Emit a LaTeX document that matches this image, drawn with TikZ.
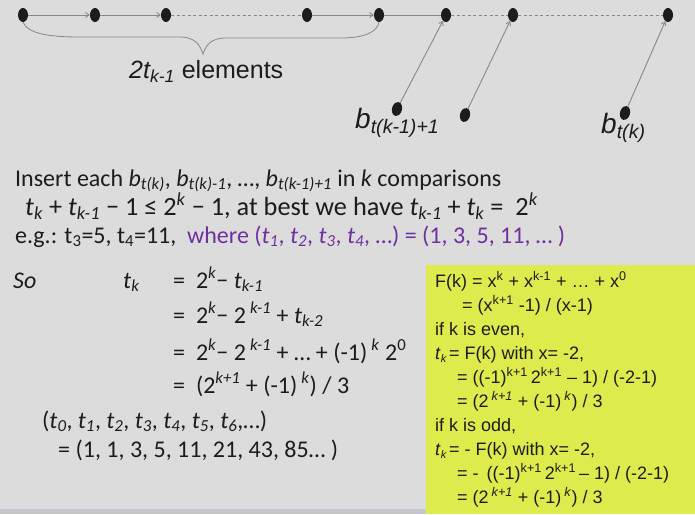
\documentclass[tikz,border=0pt]{standalone}
\usepackage{fontspec}
\setmainfont{Carlito}
\newfontfamily\arialf{Liberation Sans}
\usetikzlibrary{shapes.geometric,arrows.meta}
\definecolor{bg}{RGB}{220,220,220}
\definecolor{band}{RGB}{196,199,205}
\definecolor{ylw}{RGB}{222,235,76}
\definecolor{purp}{RGB}{112,48,160}
\definecolor{ink}{RGB}{28,28,28}
\definecolor{lnk}{RGB}{135,135,135}
\newcommand\sbs[1]{\textsubscript{#1}}
\newcommand\sps[1]{\textsuperscript{#1}}
\tikzset{
  dotn/.style={ellipse, fill=ink, draw=none, minimum width=10pt, minimum height=14pt, inner sep=0pt},
  lnkline/.style={draw=lnk, line width=0.9pt},
  arr/.style={lnkline, -{Straight Barb[length=3.5pt,width=5pt]}},
  dsh/.style={lnkline, dash pattern=on 3pt off 2.5pt},
  txt/.style={anchor=base west, inner sep=0pt, text=ink},
  cbody/.style={txt, font=\fontsize{24}{28}\selectfont},
  ybody/.style={txt, font=\arialf\fontsize{18}{22}\selectfont},
}
\begin{document}
\begin{tikzpicture}[x=1pt,y=-1pt]
\useasboundingbox (0,0) rectangle (695,514);
\fill[bg] (0,0) rectangle (695,514);
\fill[band] (0,509) rectangle (426,514);
\fill[ylw] (426,265) rectangle (695,514);

% top chain
\node[dotn] (d1) at (23,15) {};
\node[dotn] (d2) at (95,15) {};
\node[dotn] (d3) at (166,15) {};
\node[dotn] (d4) at (307,15) {};
\node[dotn] (d5) at (379,15) {};
\node[dotn] (d6) at (446,15) {};
\node[dotn] (d7) at (513,15) {};
\node[dotn] (d8) at (668,15) {};
\node[dotn, rotate=-15] (e1) at (397,109) {};
\node[dotn, rotate=-15] (e2) at (465,115) {};
\node[dotn, rotate=-15] (e3) at (625,113) {};

\draw[arr] (d1) -- (d2);
\draw[arr] (d2) -- (d3);
\draw[dsh] (d3) -- (d4);
\draw[arr] (d4) -- (d5);
\draw[lnkline] (d5) -- (d6);
\draw[dsh] (d6) -- (d7);
\draw[dsh] (d7) -- (d8);
\draw[arr] (e1) -- (d6);
\draw[arr] (e2) -- (d7);
\draw[arr] (e3) -- (d8);

% brace
\coordinate (tip) at (203,54);
\draw[lnkline, line width=0.8pt] (d1.south) .. controls (28,34) and (50,37) .. (80,37) -- (180,37)
   .. controls (195,37) and (200,45) .. (tip)
   .. controls (206,45) and (211,38) .. (226,38) -- (340,38)
   .. controls (365,38) and (377,32) .. (d5.south);

\node[txt, font=\arialf\fontsize{25}{30}\selectfont] (lbl) at (129,78) {{\itshape 2t\sbs{k-1}} elements};
\node[txt, font=\arialf\fontsize{28}{32}\selectfont] (b1) at (355,128) {\itshape b\sbs{t(k-1)+1}};
\node[txt, font=\arialf\fontsize{28}{32}\selectfont] (b2) at (601,133) {\itshape b\sbs{t(k)}};

% text lines
\node[txt, font=\fontsize{24}{28}\selectfont] (l1) at (15,186)
  {Insert each \textit{b}\sbs{\textit{t(k)}}, \textit{b}\sbs{\textit{t(k)-1}}, …, \textit{b}\sbs{\textit{t(k-1)+1}} in \textit{k} comparisons};
\node[txt, font=\fontsize{26.3}{30}\selectfont] (l2) at (25,215)
  {\textit{t}\sbs{\textit{k}} + \textit{t}\sbs{\textit{k-1}} − 1 ≤ 2\sps{\textit{k}} − 1, at best we have \textit{t}\sbs{\textit{k-1}} + \textit{t}\sbs{\textit{k}} =~ 2\sps{\textit{k}}};
\node[txt, font=\fontsize{24}{28}\selectfont] (l3) at (15,243)
  {e.g.: t\sbs{3}=5, t\sbs{4}=11,~ {\color{purp}where (\textit{t\sbs{1}}, \textit{t\sbs{2}}, \textit{t\sbs{3}}, \textit{t\sbs{4}}, …) = (1, 3, 5, 11, … )}};

% derivation
\node[cbody] (so) at (13,288) {\textit{So}};
\node[cbody] (tk) at (123,288) {\textit{t}\sbs{\textit{k}}};
\node[cbody] (r1) at (173,288) {=~ 2\sps{\textit{k}}− \textit{t}\sbs{\textit{k-1}}};
\node[cbody] (r2) at (173,323) {=~ 2\sps{\textit{k}}− 2\,\sps{\textit{k-1}} + \textit{t}\sbs{\textit{k-2}}};
\node[cbody] (r3) at (173,360) {=~ 2\sps{\textit{k}}− 2\,\sps{\textit{k-1}} + … + (-1)\,\sps{\textit{k}} 2\sps{0}};
\node[cbody] (r4) at (173,393) {=~ (2\sps{\textit{k+1}} + (-1)\,\sps{\textit{k}}) / 3};
\node[cbody] (s1) at (42,428) {(\textit{t\sbs{0}}, \textit{t\sbs{1}}, \textit{t\sbs{2}}, \textit{t\sbs{3}}, \textit{t\sbs{4}}, \textit{t\sbs{5}}, \textit{t\sbs{6}},…)};
\node[cbody] (s2) at (58,457) {= (1, 1, 3, 5, 11, 21, 43, 85… )};

% yellow box
\node[ybody] (y1) at (435,287) {F(k) = x\sps{k} + x\sps{k-1} + … + x\sps{0}};
\node[ybody] (y2) at (462,311) {= (x\sps{k+1} -1) / (x-1)};
\node[ybody] (y3) at (435,335) {if k is even,};
\node[ybody] (y4a) at (435,359) {\textit{t}{\fontsize{11}{12}\selectfont\raisebox{-3pt}{\textit{k}}}};
\node[ybody] (y4) at (449,359) {= F(k) with x= -2,};
\node[ybody] (y5) at (457,383) {= ((-1)\sps{k+1}\,2\sps{k+1} – 1) / (-2-1)};
\node[ybody] (y6) at (457,407) {= (2\,\sps{\textit{k+1}} + (-1)\,\sps{\textit{k}}) / 3};
\node[ybody] (y7) at (435,431) {if k is odd,};
\node[ybody] (y8a) at (435,455) {\textit{t}{\fontsize{11}{12}\selectfont\raisebox{-3pt}{\textit{k}}}};
\node[ybody] (y8) at (449,455) {= - F(k) with x= -2,};
\node[ybody] (y9) at (457,479) {= -\, ((-1)\sps{k+1}\,2\sps{k+1}\,– 1) / (-2-1)};
\node[ybody] (y10) at (457,503) {= (2\,\sps{\textit{k+1}} + (-1)\,\sps{\textit{k}}) / 3};
\end{tikzpicture}
\end{document}
